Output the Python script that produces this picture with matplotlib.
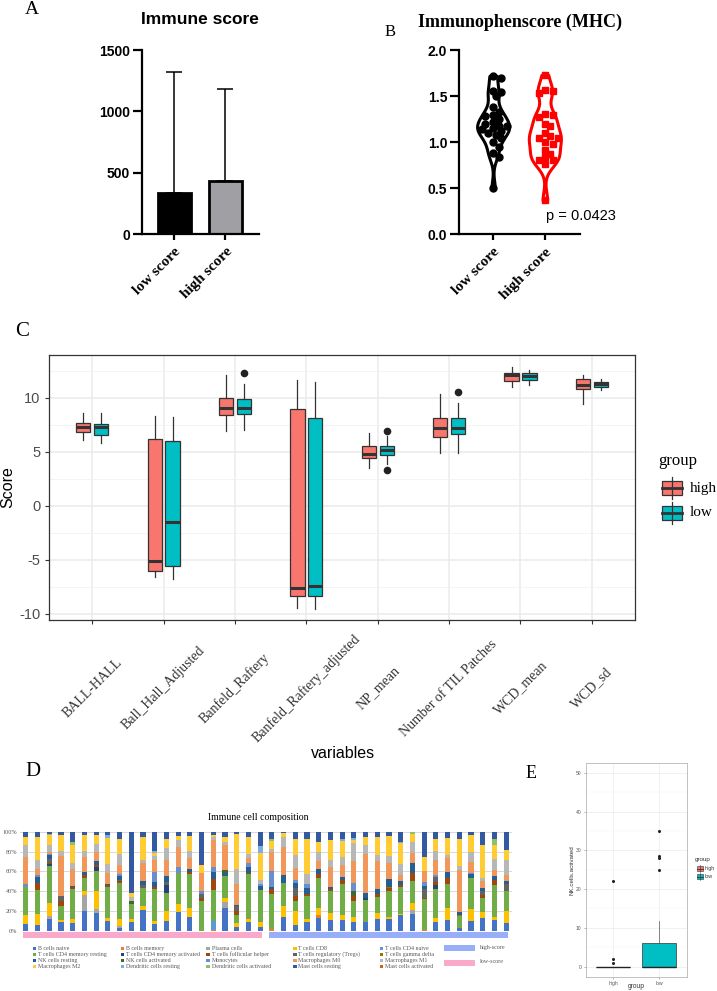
import matplotlib
matplotlib.use("Agg")
import matplotlib.pyplot as plt
import matplotlib.transforms as mtransforms
from matplotlib.patches import Rectangle
from matplotlib.lines import Line2D
import numpy as np

plt.rcParams['font.family'] = ['Liberation Sans', 'DejaVu Sans']
SANS = ['Liberation Sans', 'DejaVu Sans']
SERIF = ['Liberation Serif', 'DejaVu Serif']

# ---------------- data ----------------
# Panel A
a_groups = ['low score', 'high score']
a_means = [334, 432]
a_sd = [989, 747]
a_colors = ['#000000', '#A0A0A4']

# Panel B
b_groups = ['low score', 'high score']
b_low = [1.72, 1.70, 1.56, 1.54, 1.50, 1.38, 1.33, 1.30, 1.28, 1.25, 1.22, 1.20,
         1.18, 1.17, 1.15, 1.14, 1.12, 1.10, 1.08, 1.05, 1.00, 0.95, 0.88, 0.84, 0.50]
b_high = [1.73, 1.57, 1.55, 1.53, 1.31, 1.29, 1.27, 1.20, 1.17, 1.10, 1.07, 1.05,
          1.05, 1.00, 0.98, 0.91, 0.87, 0.84, 0.81, 0.81, 0.76, 0.37]
b_pvalue = 'p = 0.0423'

# Panel C
c_vars = ['BALL-HALL', 'Ball_Hall_Adjusted', 'Banfeld_Raftery', 'Banfeld_Raftery_adjusted',
          'NP_mean', 'Number of TIL Patches', 'WCD_mean', 'WCD_sd']
c_high_whislo = [6.08, -6.57, 6.91, -9.50, 3.52, 4.91, 10.96, 9.44]
c_high_q1 = [6.79, -6.08, 8.36, -8.33, 4.38, 6.36, 11.54, 10.77]
c_high_med = [7.31, -5.12, 9.07, -7.65, 4.75, 7.22, 12.07, 11.14]
c_high_q3 = [7.62, 6.14, 10.00, 8.92, 5.56, 8.15, 12.31, 11.73]
c_high_whishi = [8.55, 8.30, 12.13, 11.60, 6.76, 10.34, 12.81, 12.10]
c_high_fliers = [[], [], [], [], [], [], [], []]
c_low_whislo = [5.77, -6.82, 6.98, -9.56, 3.83, 4.91, 11.14, 10.71]
c_low_q1 = [6.51, -5.62, 8.46, -8.36, 4.69, 6.60, 11.67, 10.96]
c_low_med = [7.28, -1.48, 9.01, -7.43, 5.12, 7.16, 12.00, 11.23]
c_low_q3 = [7.56, 5.99, 9.91, 8.15, 5.52, 8.09, 12.31, 11.45]
c_low_whishi = [8.55, 8.24, 11.23, 11.45, 6.45, 9.48, 12.53, 11.70]
c_low_fliers = [[], [], [12.28], [], [6.91, 3.27], [10.56], [], []]
c_group_names = ['high', 'low']
c_group_colors = ['#F8766D', '#00BFC4']

# Panel D (percent per sample, 42 samples)
d_sample_group = ['low-score'] * 21 + ['high-score'] * 21
cells = ['B cells naive', 'B cells memory', 'Plasma cells', 'T cells CD8', 'T cells CD4 naive',
         'T cells CD4 memory resting', 'T cells CD4 memory activated', 'T cells follicular helper',
         'T cells regulatory (Tregs)', 'T cells gamma delta', 'NK cells resting', 'NK cells activated',
         'Monocytes', 'Macrophages M0', 'Macrophages M1', 'Macrophages M2', 'Dendritic cells resting',
         'Dendritic cells activated', 'Mast cells resting', 'Mast cells activated']
cell_colors = ['#4472C4', '#ED7D31', '#A5A5A5', '#FFC000', '#5B9BD5', '#70AD47', '#264478', '#9E480E',
               '#636363', '#997300', '#255E91', '#43682B', '#698ED0', '#F1975A', '#B7B7B7', '#FFCD33',
               '#7CAFDD', '#8CC168', '#335AA1', '#D26012']
b_naive = [7,6,12,9,8,20,18,10,3,9, 21,7,10,19,14,0,0,23,4,9, 4,0,14,6,9,13,11,11,9,9, 12,12,16,17,0,9,11,3,10,13, 11,8]
b_memory = [0,0,0,0,0,0,0,0,0,0, 0,0,0,0,0,0,1,0,0,0, 0,2,0,0,0,3,0,0,0,0, 0,0,0,0,1,0,0,0,0,0, 0,0]
plasma = [0,0,3,0,0,16,4,0,2,0, 0,0,0,0,0,0,0,6,0,0, 0,0,0,0,0,0,0,0,0,0, 0,0,0,4,0,0,0,0,0,0, 0,0]
cd8 = [9,11,13,2,4,4,18,3,7,3, 4,3,10,8,9,0,0,4,4,3, 5,0,11,14,3,7,7,5,5,0, 6,2,1,7,0,4,12,0,12,6, 3,12]
cd4_naive = [0,0,0,0,0,0,0,0,0,0, 0,0,0,0,0,0,9,0,0,0, 0,0,0,0,0,0,0,0,0,0, 0,0,0,0,0,0,0,0,0,0, 0,0]
cd4_resting = [28,24,37,14,30,13,20,31,36,15, 18,32,18,31,34,30,31,22,8,45, 32,35,23,10,23,30,22,31,16,22, 16,26,27,22,31,29,24,12,31,14, 32,20]
cd4_activated = [0,0,2,0,0,0,4,0,0,0, 0,0,8,0,0,0,0,0,0,0, 0,0,0,0,0,0,0,0,0,2, 0,0,0,0,0,4,0,0,0,0, 0,0]
tfh = [0,7,1,5,2,3,2,2,2,0, 0,2,0,0,2,3,11,0,4,1, 0,5,0,5,2,4,2,4,5,0, 3,3,2,8,1,3,6,0,0,3, 5,0]
tregs = [0,0,5,5,0,0,0,0,1,0, 3,0,3,0,0,4,0,0,5,0, 0,0,0,8,0,0,0,0,0,0, 0,0,0,0,9,5,0,0,0,4, 0,7]
tgd = [0,0,0,0,0,0,0,0,0,0, 0,0,0,0,0,0,0,0,0,0, 0,0,0,0,0,0,0,0,0,0, 0,1,0,0,0,0,0,1,0,0, 0,0]
nk_resting = [0,6,4,0,1,3,4,1,4,0, 4,5,6,0,3,0,7,3,1,6, 4,2,8,5,6,5,2,3,0,5, 5,8,4,10,3,0,6,3,4,3, 4,3]
nk_activated = [0,0,0,0,0,0,0,0,0,3, 0,0,0,0,0,0,0,3,0,0, 0,0,0,0,0,0,0,0,5,0, 0,0,0,0,0,0,0,0,0,0, 0,0]
monocytes = [3,2,1,0,0,0,0,0,2,0, 0,10,0,6,0,3,5,0,0,4, 2,16,0,3,4,0,0,0,8,0, 0,0,0,0,4,2,0,0,1,0, 0,0]
m0 = [28,6,2,41,17,16,10,11,9,0, 18,13,17,21,12,18,28,26,21,6, 0,20,29,12,0,8,20,12,22,40, 28,16,6,11,11,16,15,42,11,7, 6,6]
m1 = [12,10,7,5,6,6,8,9,12,4, 4,4,12,7,7,0,3,3,15,4, 4,3,10,14,10,10,7,9,19,9, 7,8,11,11,0,9,3,4,11,3, 12,15]
m2 = [8,23,10,16,19,16,9,27,15,4, 23,3,9,4,15,8,2,5,36,17, 28,8,4,16,36,10,21,16,3,8, 18,20,22,8,15,12,17,28,17,34, 14,11]
dc_resting = [0,0,0,0,0,0,0,3,0,0, 0,2,0,0,0,0,0,0,0,0, 7,0,0,0,0,0,0,2,2,0, 0,0,1,0,0,0,0,0,0,0, 0,0]
dc_activated = [0,0,1,0,3,0,0,0,0,0, 0,0,0,0,0,0,0,0,0,0, 0,2,0,0,0,0,0,0,0,0, 0,0,0,2,0,0,0,0,0,0, 6,0]
mast_resting = [5,5,2,3,10,3,3,3,7,62, 5,19,7,4,4,34,3,5,2,5, 14,7,1,7,7,10,8,7,6,5, 5,4,10,0,25,7,6,7,3,13, 7,18]
mast_activated = [0] * 42
d_group_colors = {'high-score': '#98AEF8', 'low-score': '#F9AACB'}

# Panel E
e_groups = ['high', 'low']
e_q1 = [0, 0]
e_med = [0, 0]
e_q3 = [0, 6.0]
e_whislo = [0, 0]
e_whishi = [0, 11.9]
e_fliers = [[22, 2, 1], [25, 28, 28.5, 35]]
e_yticks = [0, 10, 20, 30, 40, 50]

# ---------------- layout helpers ----------------
W, H = 717, 991
fig = plt.figure(figsize=(W / 100, H / 100), dpi=100)


def fx(x):
    return x / W


def fy(y):
    return 1 - y / H


def ax_px(x0, y0, x1, y1):
    return fig.add_axes([x0 / W, 1 - y1 / H, (x1 - x0) / W, (y1 - y0) / H])


def frect(x0, y0, x1, y1, **kw):
    r = Rectangle((fx(x0), fy(y1)), (x1 - x0) / W, (y1 - y0) / H, transform=fig.transFigure, **kw)
    fig.add_artist(r)


def fline(x0, y0, x1, y1, **kw):
    fig.add_artist(Line2D([fx(x0), fx(x1)], [fy(y0), fy(y1)], transform=fig.transFigure, **kw))


# panel letters
fig.text(fx(32), fy(10), 'A', family=SERIF, fontsize=14, ha='center', va='center')
fig.text(fx(390), fy(32), 'B', family=SERIF, fontsize=12, ha='center', va='center')
fig.text(fx(22), fy(332), 'C', family=SERIF, fontsize=15, ha='center', va='center')
fig.text(fx(33), fy(772), 'D', family=SERIF, fontsize=15, ha='center', va='center')
fig.text(fx(531), fy(774), 'E', family=SERIF, fontsize=13, ha='center', va='center')

# ---------------- Panel A ----------------
axA = ax_px(142, 50, 259, 234)
xa = np.arange(len(a_groups))
axA.bar(xa, a_means, width=0.65, color=a_colors, edgecolor='black', linewidth=2, zorder=2)
axA.errorbar(xa, a_means, yerr=[np.zeros(len(a_means)), a_sd], fmt='none', ecolor='black',
             elinewidth=1.1, capsize=6, capthick=1.1, zorder=1)
axA.set_xlim(-0.63, 1.66)
axA.set_ylim(0, 1500)
axA.set_yticks([0, 500, 1000, 1500])
axA.set_xticks(xa)
for s in ['top', 'right']:
    axA.spines[s].set_visible(False)
for s in ['left', 'bottom']:
    axA.spines[s].set_linewidth(1.6)
axA.tick_params(axis='y', length=6.5, width=1.6, labelsize=10, pad=2)
axA.tick_params(axis='x', length=4.5, width=1.6)
for t in axA.get_yticklabels():
    t.set_fontweight('bold')
axA.set_xticklabels(a_groups, rotation=45, ha='right', rotation_mode='anchor',
                    family=SERIF, fontweight='bold', fontsize=11)
fig.text(fx(200), fy(20), 'Immune score', ha='center', va='center', fontsize=12.5, fontweight='bold')

# ---------------- Panel B ----------------
axB = ax_px(459, 50, 580, 234.3)
vp = axB.violinplot([b_low, b_high], positions=[0, 1], widths=0.62, showextrema=False, bw_method=0.3)
for body, c in zip(vp['bodies'], ['black', 'red']):
    body.set_facecolor('white')
    body.set_edgecolor(c)
    body.set_linewidth(2.2)
    body.set_alpha(1)


def swarm(vals, xs, ys, d):
    placed = []
    offs = []
    cands = [0] + [s * j for j in range(1, 30) for s in (1, -1)]
    for v in vals:
        chosen = 0
        for c in cands:
            ox = c * 0.45 * d / xs
            if all(((ox - po) * xs) ** 2 + ((v - pv) * ys) ** 2 >= d * d for po, pv in placed):
                chosen = ox
                break
        placed.append((chosen, v))
        offs.append(chosen)
    return np.array(offs)


xs_px, ys_px = 51.7, 92.15
off_low = swarm(b_low, xs_px, ys_px, 6.0)
off_high = swarm(b_high, xs_px, ys_px, 6.0)
axB.plot(0 + off_low, b_low, 'o', color='black', ms=5, zorder=3)
axB.plot(1 + off_high, b_high, 's', color='red', ms=4.6, zorder=3)
axB.set_xlim(-0.66, 1.68)
axB.set_ylim(0, 2)
axB.set_yticks([0, 0.5, 1.0, 1.5, 2.0])
axB.set_yticklabels(['0.0', '0.5', '1.0', '1.5', '2.0'])
axB.set_xticks([0, 1])
for s in ['top', 'right']:
    axB.spines[s].set_visible(False)
for s in ['left', 'bottom']:
    axB.spines[s].set_linewidth(1.6)
axB.tick_params(axis='y', length=6.5, width=1.6, labelsize=10, pad=2)
axB.tick_params(axis='x', length=4.5, width=1.6)
for t in axB.get_yticklabels():
    t.set_fontweight('bold')
axB.set_xticklabels(b_groups, rotation=45, ha='right', rotation_mode='anchor',
                    family=SERIF, fontweight='bold', fontsize=11)
fig.text(fx(520), fy(22), 'Immunophenscore (MHC)', ha='center', va='center', family=SERIF,
         fontsize=13, fontweight='bold')
fig.text(fx(581), fy(216), b_pvalue, ha='center', va='center', fontsize=10.5)

# ---------------- Panel C ----------------
axC = ax_px(49.4, 355, 634.7, 620)
pos = np.arange(len(c_vars))
for gi, (gname, gcol) in enumerate(zip(c_group_names, c_group_colors)):
    if gname == 'high':
        cols = (c_high_whislo, c_high_q1, c_high_med, c_high_q3, c_high_whishi, c_high_fliers)
        off = -0.125
    else:
        cols = (c_low_whislo, c_low_q1, c_low_med, c_low_q3, c_low_whishi, c_low_fliers)
        off = 0.125
    stats = [dict(whislo=a, q1=b, med=c, q3=d, whishi=e, fliers=f) for a, b, c, d, e, f in zip(*cols)]
    axC.bxp(stats, positions=pos + off, widths=0.2, patch_artist=True, showcaps=False,
            boxprops=dict(facecolor=gcol, edgecolor='#333333', linewidth=0.9),
            medianprops=dict(color='#333333', linewidth=2.2),
            whiskerprops=dict(color='#333333', linewidth=0.9),
            flierprops=dict(marker='o', markerfacecolor='#222222', markeredgecolor='none', markersize=5.5),
            manage_ticks=False, zorder=3)
axC.set_xlim(-0.6, 7.6)
axC.set_ylim(-10.58, 13.95)
axC.set_yticks([-10, -5, 0, 5, 10])
axC.set_yticklabels(['-10', '-5', '0', '5', '10'])
axC.set_yticks([-7.5, -2.5, 2.5, 7.5, 12.5], minor=True)
axC.set_xticks(pos)
axC.set_xticklabels([''] * len(pos))
axC.grid(which='major', color='#EBEBEB', linewidth=1.1)
axC.grid(which='minor', axis='y', color='#F2F2F2', linewidth=0.6)
axC.set_axisbelow(True)
for s in axC.spines.values():
    s.set_color('#333333')
    s.set_linewidth(0.9)
axC.tick_params(which='major', length=3, width=0.8, color='#333333', labelsize=10.5, labelcolor='#4D4D4D')
axC.tick_params(which='minor', length=0)
trC = mtransforms.blended_transform_factory(axC.transData, fig.transFigure)
for i, lab in enumerate(c_vars):
    axC.text(i, fy(688), lab, transform=trC, rotation=45, ha='center', va='center',
             rotation_mode='anchor', family=SERIF, fontsize=10, color='#333333')
fig.text(fx(8), fy(487), 'Score', rotation=90, ha='center', va='center', fontsize=11.5)
fig.text(fx(343), fy(753), 'variables', ha='center', va='center', fontsize=11.5)
# legend
fig.text(fx(658), fy(461), 'group', ha='left', va='center', family=SERIF, fontsize=12)
for k, (gname, gcol) in enumerate(zip(c_group_names, c_group_colors)):
    yc = 488 + 25 * k
    fline(672, yc - 11, 672, yc + 11, color='#333333', linewidth=0.9)
    frect(662, yc - 7, 682, yc + 7, facecolor=gcol, edgecolor='#333333', linewidth=0.9)
    fline(662, yc, 682, yc, color='#333333', linewidth=2)
    fig.text(fx(690), fy(yc), gname, ha='left', va='center', family=SERIF, fontsize=11)

# ---------------- Panel D ----------------
axD = ax_px(20, 831.7, 512, 931)
comp = np.array([b_naive, b_memory, plasma, cd8, cd4_naive, cd4_resting, cd4_activated, tfh, tregs,
                 tgd, nk_resting, nk_activated, monocytes, m0, m1, m2, dc_resting, dc_activated,
                 mast_resting, mast_activated], dtype=float)
comp = comp / comp.sum(axis=0, keepdims=True) * 100
xd = np.arange(comp.shape[1])
bottom = np.zeros(comp.shape[1])
for row, col in zip(comp, cell_colors):
    axD.bar(xd, row, bottom=bottom, width=0.43, color=col, linewidth=0, zorder=2)
    bottom += row
axD.set_xlim(-0.5, comp.shape[1] - 0.5)
axD.set_ylim(0, 100)
axD.set_yticks([0, 20, 40, 60, 80, 100])
axD.set_yticklabels(['0%', '20%', '40%', '60%', '80%', '100%'])
axD.set_xticks([])
axD.grid(axis='y', color='#D9D9D9', linewidth=0.7)
axD.set_axisbelow(True)
for s in axD.spines.values():
    s.set_visible(False)
axD.tick_params(axis='y', length=0, labelsize=4.5, labelcolor='#595959', pad=2)
for t in axD.get_yticklabels():
    t.set_family(SERIF)
fig.text(fx(258), fy(817), 'Immune cell composition', ha='center', va='center', family=SERIF, fontsize=7)
trD = mtransforms.blended_transform_factory(axD.transData, fig.transFigure)
for gname in ['low-score', 'high-score']:
    idx = [i for i, g in enumerate(d_sample_group) if g == gname]
    r = Rectangle((min(idx) - 0.22, fy(937.5)), max(idx) - min(idx) + 0.42, 5.5 / H, transform=trD,
                  facecolor=d_group_colors[gname], edgecolor='none', clip_on=False)
    axD.add_patch(r)
# legend
col_x = [34.3, 122.5, 208, 295, 381.8]
row_y = [948.3, 954.3, 960.6, 966.7]
for i, (name, col) in enumerate(zip(cells, cell_colors)):
    cx = col_x[i % 5]
    cy = row_y[i // 5]
    frect(cx - 1.6, cy - 1.6, cx + 1.6, cy + 1.6, facecolor=col, edgecolor='none')
    fig.text(fx(cx + 3.5), fy(cy), name, ha='left', va='center', family=SERIF, fontsize=4.3, color='#595959')
for k, gname in enumerate(['high-score', 'low-score']):
    y0 = 945.3 + 14.7 * k
    frect(444.4, y0, 474.6, y0 + 5.7, facecolor=d_group_colors[gname], edgecolor='none')
    fig.text(fx(480), fy(y0 + 1.7), gname, ha='left', va='center', family=SERIF, fontsize=4.3, color='#595959')

# ---------------- Panel E ----------------
axE = ax_px(585.7, 762.7, 686.7, 976.7)
e_stats = [dict(whislo=a, q1=b, med=c, q3=d, whishi=e, fliers=f)
           for a, b, c, d, e, f in zip(e_whislo, e_q1, e_med, e_q3, e_whishi, e_fliers)]
bpE = axE.bxp(e_stats, positions=[1, 2], widths=0.73, patch_artist=True, showcaps=False,
              boxprops=dict(edgecolor='#333333', linewidth=0.5),
              medianprops=dict(color='#222222', linewidth=1.0),
              whiskerprops=dict(color='#555555', linewidth=0.5),
              flierprops=dict(marker='o', markerfacecolor='#222222', markeredgecolor='none', markersize=2.2),
              manage_ticks=False, zorder=3)
for patch, col in zip(bpE['boxes'], c_group_colors):
    patch.set_facecolor(col)
axE.set_xlim(0.4, 2.6)
axE.set_ylim(-2.58, 52.58)
axE.set_yticks(e_yticks)
axE.set_yticks([5, 15, 25, 35, 45], minor=True)
axE.set_xticks([1, 2])
axE.set_xticklabels(e_groups)
axE.grid(which='major', color='#EBEBEB', linewidth=0.5)
axE.grid(which='minor', axis='y', color='#F4F4F4', linewidth=0.3)
axE.set_axisbelow(True)
for s in axE.spines.values():
    s.set_color('#AAAAAA')
    s.set_linewidth(0.5)
axE.tick_params(which='major', length=1.5, width=0.4, color='#777777', labelsize=3.6, labelcolor='#555555', pad=1.5)
axE.tick_params(which='minor', length=0)
fig.text(fx(572), fy(870), 'NK.cells.activated', rotation=90, ha='center', va='center', fontsize=4.5, color='#333333')
fig.text(fx(636), fy(987), 'group', ha='center', va='center', fontsize=4.8, color='#333333')
fig.text(fx(695), fy(859), 'group', ha='left', va='center', fontsize=4.5, color='#333333')
for k, (gname, gcol) in enumerate(zip(e_groups, c_group_colors)):
    yc = 868.5 + 8 * k
    fline(700, yc - 3.5, 700, yc + 3.5, color='#333333', linewidth=0.4)
    frect(697, yc - 2.5, 703, yc + 2.5, facecolor=gcol, edgecolor='#333333', linewidth=0.4)
    fline(697, yc, 703, yc, color='#333333', linewidth=0.6)
    fig.text(fx(705), fy(yc), gname, ha='left', va='center', fontsize=3.8, color='#333333')

fig.savefig('out.png', dpi=100)
